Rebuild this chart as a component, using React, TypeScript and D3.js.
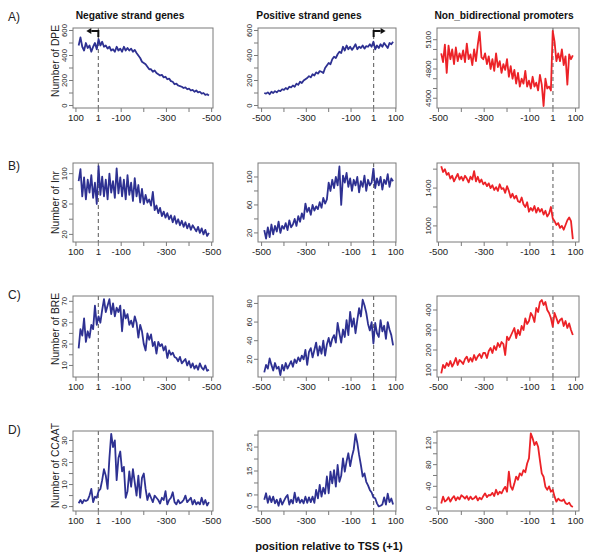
import React from "react";
import * as d3 from "d3";

// positions relative to TSS (sample points)
const POS = [-488,-480,-472,-464,-456,-448,-440,-432,-424,-416,-408,-400,
  -392,-384,-376,-368,-360,-352,-344,-336,-328,-320,-312,-304,
  -296,-288,-280,-272,-264,-256,-248,-240,-232,-224,-216,-208,
  -200,-192,-184,-176,-168,-160,-152,-144,-136,-128,-120,-112,
  -104,-96,-88,-80,-72,-64,-56,-48,-40,-32,-24,-16,
  -8,0,8,16,24,32,40,48,56,64,72,80,88];
// negative strand series are listed from +88 down to -488 (left to right on screen)
const POS_NEG = POS.slice().reverse();

const ROW_LABELS = ["A)", "B)", "C)", "D)"];
const Y_TITLES = ["Number of DPE", "Number of Inr", "Number of BRE", "Number of CCAAT"];
const COL_TITLES = ["Negative strand genes", "Positive strand genes", "Non_bidirectional promoters"];
const X_TITLE = "position relative to TSS (+1)";
const X_TICKS = [100, 1, -100, -200, -300, -400, -500];
const X_LABELS = ["100", "1", "-100", "", "-300", "", "-500"];

// ---- DPE ----
const negDPE = [480,545,470,440,500,460,480,430,470,500,450,530,
  480,510,470,480,455,470,440,450,430,470,440,455,
  430,470,440,460,440,455,430,445,420,400,380,350,
  340,330,310,290,290,270,280,260,250,240,245,225,
  230,210,215,195,190,170,175,160,155,150,140,145,
  130,135,120,125,110,120,105,110,95,100,85,90,
  80];
const posDPE = [100,95,105,90,110,100,115,105,120,115,130,125,
  140,130,150,145,160,150,175,165,190,180,200,210,
  220,235,225,250,240,265,255,275,270,260,300,320,
  340,330,370,390,380,410,430,420,470,440,480,450,
  470,445,465,490,450,470,460,480,455,475,470,490,
  470,510,450,480,460,490,470,500,480,460,500,490,
  510];
const nbDPE = [4960,4870,5050,4760,5040,4900,5000,4850,5020,4880,4960,4900,
  4990,4870,5060,4900,4950,4840,5000,4880,5050,5180,4920,4900,
  4960,4850,4930,4800,4900,4780,4960,4820,4880,4760,4850,4790,
  4900,4720,4830,4700,4790,4650,4760,4620,4700,4650,4780,4620,
  4680,4600,4720,4620,4660,4580,4740,4640,4420,4700,4600,4620,
  4580,5190,5080,4880,4960,4880,5000,4840,4930,4640,4950,4900,
  4940];

// ---- Inr ----
const negInr = [90,106,70,95,66,92,75,98,68,88,60,110,
  72,96,70,92,66,100,75,90,68,107,74,95,
  70,92,66,98,72,88,64,94,70,85,62,80,
  60,72,62,66,58,76,52,58,48,55,44,50,
  42,48,40,45,36,44,34,40,32,38,30,36,
  28,34,26,32,28,24,30,22,28,20,26,18,
  22];
const posInr = [24,12,28,14,32,18,30,22,36,20,30,26,
  34,24,38,28,32,40,30,44,36,48,40,62,
  50,56,46,60,52,58,54,64,56,70,62,68,
  92,80,96,84,100,88,115,60,102,92,106,86,
  98,80,96,88,100,78,94,86,102,80,96,88,
  92,112,84,98,88,100,82,96,90,104,86,98,
  94];
const nbInr = [1630,1570,1600,1540,1560,1500,1530,1470,1510,1550,1490,1520,
  1480,1530,1500,1460,1520,1490,1580,1470,1520,1460,1490,1440,
  1460,1420,1450,1400,1430,1380,1410,1370,1440,1390,1400,1350,
  1420,1370,1300,1340,1290,1320,1260,1250,1300,1230,1200,1250,
  1150,1190,1160,1210,1140,1190,1150,1180,1120,1160,1100,1130,
  1200,1080,1050,1010,1030,980,1000,960,1010,1060,1090,1050,
  860];

// ---- BRE ----
const negBRE = [26,44,38,54,32,42,36,48,44,66,48,56,
  50,62,72,60,66,72,58,68,56,64,60,66,
  42,62,54,58,48,52,46,56,50,36,48,42,
  30,24,40,34,39,28,32,21,32,28,30,24,
  28,17,24,20,22,18,17,14,18,12,14,16,
  10,14,8,12,7,10,6,12,8,6,10,5,
  6];
const posBRE = [6,14,10,21,14,8,16,10,12,3,14,8,
  16,10,14,18,12,20,16,22,18,24,20,30,
  14,28,32,22,30,38,24,34,26,40,24,36,
  43,34,42,46,38,59,48,38,52,44,62,46,
  71,55,64,48,62,75,66,84,78,70,58,51,
  60,37,59,48,44,62,50,56,42,60,52,46,
  35];
const nbBRE = [83,125,110,135,120,145,117,135,160,125,150,142,
  130,155,167,140,160,142,175,150,168,180,160,185,
  185,160,195,210,185,220,200,235,215,240,230,175,
  267,250,270,290,310,260,300,275,320,300,358,330,
  345,385,370,340,410,390,440,450,425,440,400,385,
  360,317,385,360,333,350,358,320,345,310,333,300,
  275];

// ---- CCAAT ----
const negCCAAT = [1.5,3,1.5,3,2.5,3,5,8,2,4.5,4,7,
  8,12,17,14,8,22,33,27,30,12,22,25,
  16,18,4,7,16,9,17,11,5,14,4,13,
  15,8,3,6,4,2,5,4,3,1.4,4,3,
  7,1,3,4,6.5,2,1,3,1.5,2,3,5,
  2,3,4,1,3,1,2,1,4,1,3,0.5,
  2];
const posCCAAT = [3,5.7,1.7,4.5,2,4.3,1.5,3,0.5,3.5,1,2.5,
  4,5,1,3,1.5,6,2,4,1.7,3,1.5,4.3,
  1.7,4,2,4.3,1.7,7.1,3.6,9.2,4.3,8,5.5,12.7,
  5.7,14.7,9.8,15.4,8.5,17.5,10.5,13,20.3,14.7,19,22.4,
  17,21,24,30.4,26.7,21.7,17.5,12.7,14,10.5,9,7.1,
  6,4,3.6,1.5,0.2,0.5,1,4,1,5.5,2,3.5,
  1];
const nbCCAAT = [8.5,21,12,14.6,19.8,11.7,18,22,14,20,16,23.5,
  21,17.3,22,15,21,16,18,22,14,19,16,22,
  27,20,24,23.5,28,22,33.6,25,30,27,34,39,
  30,67,40,33.6,45,58,52,64,60,70,66,82,
  91.6,137.7,128.5,116,122,113,88,64,57.7,39,33.6,40,
  30,33.6,21,11.7,17.3,14,13,16,9,7.2,10,4,
  2];

const SERIES = [
  [negDPE, posDPE, nbDPE],
  [negInr, posInr, nbInr],
  [negBRE, posBRE, nbBRE],
  [negCCAAT, posCCAAT, nbCCAAT],
];

const Y_DOMAINS = [
  [[-20, 620], [-20, 620], [4400, 5220]],
  [[10, 114], [7, 120], [830, 1665]],
  [[-0.8, 75], [1, 88], [65, 470]],
  [[-2, 34.3], [-1.7, 31.7], [-5.5, 142]],
];
const Y_TICKS = [
  [[0,100,200,300,400,500,600], [0,100,200,300,400,500,600], [4500,4600,4700,4800,4900,5000,5100]],
  [[20,40,60,80,100], [20,40,60,80,100], [1000,1200,1400,1600]],
  [[10,20,30,40,50,60,70], [20,40,60,80], [100,200,300,400]],
  [[0,5,10,15,20,25,30], [0,5,10,15,20,25,30], [0,20,40,60,80,100,120,140]],
];
const Y_LABELS = [
  [[0,200,400,600], [0,200,400,600], [4500,4800,5100]],
  [[20,60,100], [20,60,100], [1000,1400]],
  [[10,30,50,70], [20,40,60,80], [100,200,300,400]],
  [[0,10,20,30], [0,5,15,25], [0,40,80,120]],
];

const COLS = [
  { x0: 73, x1: 213, dom: [113, -506] },
  { x0: 258, x1: 396, dom: [-516, 101] },
  { x0: 437, x1: 579, dom: [-506.5, 115] },
];
const ROWS = [
  { y0: 28, y1: 108, titleY: 61, labelY: 21 },
  { y0: 163, y1: 242, titleY: 202.5, labelY: 170 },
  { y0: 296, y1: 377, titleY: 329, labelY: 299 },
  { y0: 431, y1: 511, titleY: 465.5, labelY: 434 },
];

const BLUE = "#2E3192";
const RED = "#EC2227";
const FONT = "'Liberation Sans', Arial, Helvetica, sans-serif";
const AXIS = "#7a7a7a";

function Panel({ r, c }: { r: number; c: number }) {
  const col = COLS[c];
  const row = ROWS[r];
  const x = d3.scaleLinear().domain(col.dom).range([col.x0, col.x1]);
  const y = d3.scaleLinear().domain(Y_DOMAINS[r][c]).range([row.y1, row.y0]);
  const vals = SERIES[r][c];
  const pos = c === 0 ? POS_NEG : POS;
  const pts: [number, number][] = vals.map((v, i) => [pos[i], v]);
  const line = d3.line<[number, number]>().x((d) => x(d[0])).y((d) => y(d[1]));
  const x1 = x(1);
  const color = c === 2 ? RED : BLUE;
  return (
    <g>
      <line x1={x1} x2={x1} y1={row.y0} y2={row.y1} stroke="#666" strokeWidth={1.1} strokeDasharray="4,3" />
      <path d={line(pts) || ""} fill="none" stroke={color} strokeWidth={1.8} strokeLinejoin="round" />
      <rect x={col.x0} y={row.y0} width={col.x1 - col.x0} height={row.y1 - row.y0} fill="none" stroke={AXIS} strokeWidth={1} />
      {X_TICKS.map((t, i) => (
        <g key={"xt" + i}>
          <line x1={x(t)} x2={x(t)} y1={row.y1} y2={row.y1 + 4} stroke={AXIS} strokeWidth={1} />
          {X_LABELS[i] && (
            <text x={x(t)} y={row.y1 + 13} textAnchor="middle" fontSize={9.6} fontFamily={FONT} fill="#222">
              {X_LABELS[i]}
            </text>
          )}
        </g>
      ))}
      {Y_TICKS[r][c].map((t) => (
        <line key={"yt" + t} x1={col.x0 - 4} x2={col.x0} y1={y(t)} y2={y(t)} stroke={AXIS} strokeWidth={1} />
      ))}
      {Y_LABELS[r][c].map((t) => (
        <text key={"yl" + t} transform={`translate(${col.x0 - 6},${y(t)}) rotate(-90)`} textAnchor="middle"
          fontSize={7.8} fontFamily={FONT} fill="#222">
          {t}
        </text>
      ))}
      {r === 0 && c === 0 && (
        <g>
          <path d={`M${x1},${row.y0 + 9} V${row.y0 + 3} H${x1 - 7}`} fill="none" stroke="#111" strokeWidth={2} />
          <polygon points={`${x1 - 12},${row.y0 + 3} ${x1 - 7},${row.y0} ${x1 - 7},${row.y0 + 6}`} fill="#111" />
        </g>
      )}
      {r === 0 && c === 1 && (
        <g>
          <path d={`M${x1},${row.y0 + 9} V${row.y0 + 3} H${x1 + 7}`} fill="none" stroke="#111" strokeWidth={2} />
          <polygon points={`${x1 + 12},${row.y0 + 3} ${x1 + 7},${row.y0} ${x1 + 7},${row.y0 + 6}`} fill="#111" />
        </g>
      )}
    </g>
  );
}

export default function App() {
  return (
    <svg width={600} height={556} style={{ position: "absolute", left: 0, top: 0, background: "#fff" }}>
      <rect x={0} y={0} width={600} height={556} fill="#fff" />
      {COL_TITLES.map((t, c) => (
        <text key={t} x={(COLS[c].x0 + COLS[c].x1) / 2 + (c === 0 ? -13 : c === 1 ? -18 : -4)} y={19}
          textAnchor="middle" fontSize={10.2} fontWeight="bold" fontFamily={FONT} fill="#111">
          {t}
        </text>
      ))}
      {ROWS.map((row, r) => (
        <g key={"row" + r}>
          <text x={8} y={row.labelY} fontSize={12} fontFamily={FONT} fill="#222">{ROW_LABELS[r]}</text>
          <text transform={`translate(${58.5},${row.titleY}) rotate(-90)`} textAnchor="middle" fontSize={10.3}
            fontFamily={FONT} fill="#222">
            {Y_TITLES[r]}
          </text>
          {[0, 1, 2].map((c) => <Panel key={c} r={r} c={c} />)}
        </g>
      ))}
      <text x={329} y={550} textAnchor="middle" fontSize={11.2} fontWeight="bold" fontFamily={FONT} fill="#111">
        {X_TITLE}
      </text>
    </svg>
  );
}
